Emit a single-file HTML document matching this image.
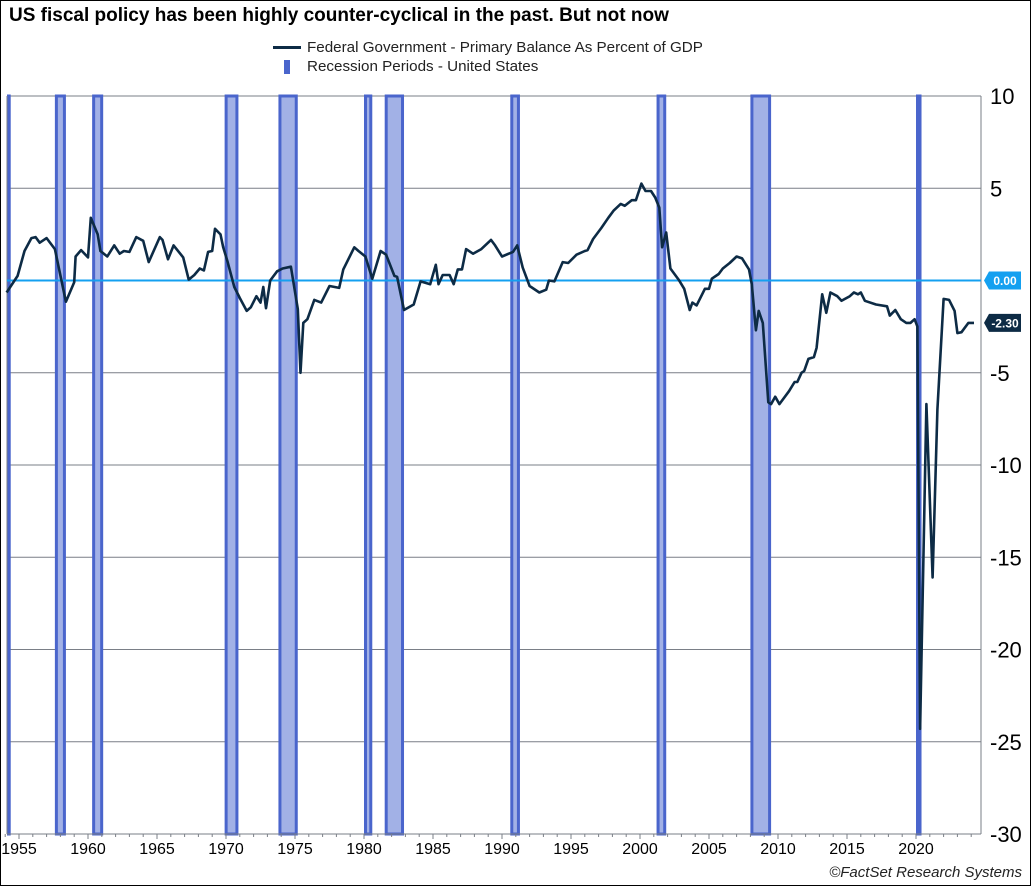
<!DOCTYPE html>
<html><head><meta charset="utf-8"><style>
html,body{margin:0;padding:0;background:#fff}
#wrap{position:relative;width:1031px;height:886px;box-sizing:border-box;border:1px solid #000;overflow:hidden;font-family:"Liberation Sans",sans-serif}
.title{position:absolute;left:8px;top:4px;font-weight:bold;font-size:19px;color:#000}
.leg{position:absolute;left:272px;font-size:15.2px;color:#222}
.copy{position:absolute;right:8px;bottom:4px;font-style:italic;font-size:15px;color:#222}
</style></head><body>
<div id="wrap">
<div class="title">US fiscal policy has been highly counter-cyclical in the past. But not now</div>
<div class="leg" style="top:38px"><span style="display:inline-block;width:28px;height:3px;background:#0d2b45;vertical-align:middle;margin-right:6px"></span>Federal Government - Primary Balance As Percent of GDP</div>
<div class="leg" style="top:57px"><span style="display:inline-block;width:6px;height:14px;background:#4a65cc;vertical-align:middle;margin:0 17px 0 11px"></span>Recession Periods - United States</div>
<svg id="chart" width="1031" height="886" style="position:absolute;left:-1px;top:-1px"></svg>
<div class="copy">©FactSet Research Systems</div>
</div>
<script>
const years=[1954.1,1954.9,1955.4,1955.9,1956.2,1956.5,1957.0,1957.6,1958.4,1959.0,1959.1,1959.5,1960.0,1960.2,1960.7,1960.9,1961.4,1961.9,1962.3,1962.6,1963.0,1963.5,1964.0,1964.4,1965.2,1965.4,1965.8,1966.2,1966.9,1967.3,1967.7,1968.1,1968.4,1968.7,1969.0,1969.2,1969.6,1969.8,1970.1,1970.6,1971.0,1971.5,1971.8,1972.2,1972.5,1972.7,1972.9,1973.2,1973.7,1974.1,1974.7,1975.2,1975.4,1975.6,1975.9,1976.4,1976.9,1977.5,1978.2,1978.5,1979.3,1979.6,1980.1,1980.6,1981.2,1981.6,1982.2,1982.4,1982.9,1983.6,1984.1,1984.8,1985.2,1985.4,1985.7,1986.2,1986.5,1986.8,1987.1,1987.4,1987.9,1988.5,1989.2,1989.5,1990.0,1990.8,1991.1,1991.5,1992.0,1992.7,1993.2,1993.4,1993.8,1994.4,1994.8,1995.4,1996.0,1996.2,1996.6,1997.2,1997.7,1998.1,1998.6,1998.9,1999.4,1999.7,2000.1,2000.4,2000.8,2001.1,2001.4,2001.6,2001.9,2002.2,2002.8,2003.2,2003.6,2003.8,2004.1,2004.7,2005.0,2005.2,2005.7,2006.0,2006.5,2007.0,2007.4,2007.9,2008.1,2008.4,2008.6,2008.9,2009.3,2009.5,2009.8,2010.1,2010.8,2011.2,2011.4,2011.7,2011.9,2012.2,2012.6,2012.8,2013.2,2013.5,2013.8,2014.3,2014.6,2015.2,2015.5,2015.8,2016.0,2016.3,2017.1,2017.9,2018.1,2018.5,2018.9,2019.3,2019.6,2019.9,2020.1,2020.3,2020.75,2021.2,2021.55,2022.0,2022.4,2022.8,2023.0,2023.3,2023.8,2024.2];
const values=[-0.65,0.25,1.6,2.3,2.35,2.05,2.3,1.7,-1.15,-0.1,1.3,1.65,1.25,3.4,2.5,1.6,1.3,1.9,1.45,1.6,1.55,2.35,2.15,1.0,2.35,2.2,1.15,1.9,1.25,0.05,0.3,0.65,0.55,1.55,1.6,2.8,2.5,1.8,1.05,-0.35,-0.95,-1.65,-1.45,-0.85,-1.2,-0.35,-1.5,0,0.5,0.65,0.75,-1.55,-5.0,-2.3,-2.1,-1.05,-1.2,-0.3,-0.4,0.6,1.8,1.6,1.3,0.1,1.6,1.4,0.25,0.2,-1.6,-1.3,-0.05,-0.2,0.85,-0.2,0.3,0.3,-0.2,0.6,0.6,1.7,1.45,1.7,2.2,1.9,1.3,1.55,1.9,0.7,-0.3,-0.65,-0.5,0,-0.05,1.0,0.95,1.4,1.6,1.65,2.25,2.85,3.4,3.8,4.15,4.05,4.35,4.35,5.25,4.85,4.85,4.5,3.95,1.8,2.6,0.65,0.05,-0.45,-1.6,-1.2,-1.35,-0.45,-0.45,0.1,0.35,0.65,0.95,1.3,1.2,0.6,-0.2,-2.7,-1.65,-2.3,-6.6,-6.7,-6.3,-6.7,-6.0,-5.5,-5.5,-5.0,-4.9,-4.25,-4.15,-3.65,-0.75,-1.75,-0.65,-0.85,-1.1,-0.85,-0.65,-0.75,-0.65,-1.1,-1.3,-1.4,-1.9,-1.6,-2.1,-2.3,-2.3,-2.1,-2.5,-24.3,-6.7,-16.1,-7.0,-1.0,-1.05,-1.65,-2.85,-2.8,-2.3,-2.3];
const recStart=[1953.6,1957.6,1960.3,1969.9,1973.8,1980.0,1981.5,1990.6,2001.2,2008.0,2020.0];
const recEnd=[1954.4,1958.4,1961.1,1970.9,1975.2,1980.6,1982.9,1991.3,2001.9,2009.5,2020.4];
const yTicks=[10,5,0,-5,-10,-15,-20,-25,-30];
const xTickYears=[1955,1960,1965,1970,1975,1980,1985,1990,1995,2000,2005,2010,2015,2020];
const lastValue=-2.30;

const L=7,R=981,T=96,B=834;
const X=y=>19+(y-1955)*13.8;
const Y=v=>T+(10-v)*(B-T)/40;
const svg=document.getElementById('chart');
const NS='http://www.w3.org/2000/svg';
function mk(tag,attrs,parent){const e=document.createElementNS(NS,tag);for(const k in attrs)e.setAttribute(k,attrs[k]);(parent||svg).appendChild(e);return e;}
yTicks.forEach(v=>{
 const g=mk('line',{x1:L,x2:R,y1:Y(v),y2:Y(v),stroke:'#7a7f87','stroke-width':1});
 
 
 const t=mk('text',{x:990,y:Y(v)+8,'font-size':22,'font-family':'Liberation Sans, sans-serif',fill:'#000'});
 t.textContent=String(v);
 
 
});
recStart.forEach((s,i)=>{
 const x1=Math.max(L,X(s)),x2=X(recEnd[i]);
 const r=mk('rect',{x:x1+1.5,y:T,width:Math.max(0,x2-x1-3),height:B-T,fill:'#a2b1e6',stroke:'#4a65cc','stroke-width':3});
 
 
});
let a=mk('line',{x1:R,x2:R,y1:T,y2:B,stroke:'#7a7f87','stroke-width':1});

a=mk('line',{x1:L,x2:L,y1:T,y2:B,stroke:'#7a7f87','stroke-width':1});

a=mk('line',{x1:L,x2:R,y1:B,y2:B,stroke:'#7a7f87','stroke-width':1});

for(let yr=1954;yr<=2024;yr++){
 const major=yr%5===0;
 const tk=mk('line',{x1:X(yr),x2:X(yr),y1:B,y2:B+(major?5:3),stroke:'#7a7f87','stroke-width':1});
 
 
}
xTickYears.forEach(yr=>{
 const t=mk('text',{x:X(yr),y:B+20,'font-size':16,'text-anchor':'middle','font-family':'Liberation Sans, sans-serif',fill:'#000'});
 t.textContent=String(yr);
 
 
});
const z=mk('line',{x1:L,x2:R,y1:Y(0),y2:Y(0),stroke:'#14a0f0','stroke-width':2});


const d=years.map((y,i)=>(i?'L':'M')+X(y).toFixed(1)+' '+Y(values[i]).toFixed(1)).join(' ');
const p=mk('path',{d:d,fill:'none',stroke:'#0d2b45','stroke-width':2.6,'stroke-linejoin':'round'});


function tag(v,txt,col,name){
 const y=Y(v);
 const g=mk('g',{});
 
 
 mk('path',{d:`M${R+3} ${y} L${R+8} ${y-9} L${R+40} ${y-9} L${R+40} ${y+9} L${R+8} ${y+9} Z`,fill:col},g);
 const t=mk('text',{x:R+24,y:y+4.5,'font-size':12,'font-weight':'bold','text-anchor':'middle','font-family':'Liberation Sans, sans-serif',fill:'#fff'},g);
 t.textContent=txt;
}
tag(0,'0.00','#14a0f0','zero-value-tag');
tag(lastValue,lastValue.toFixed(2),'#0d2b45','last-value-tag');
</script>
</body></html>
